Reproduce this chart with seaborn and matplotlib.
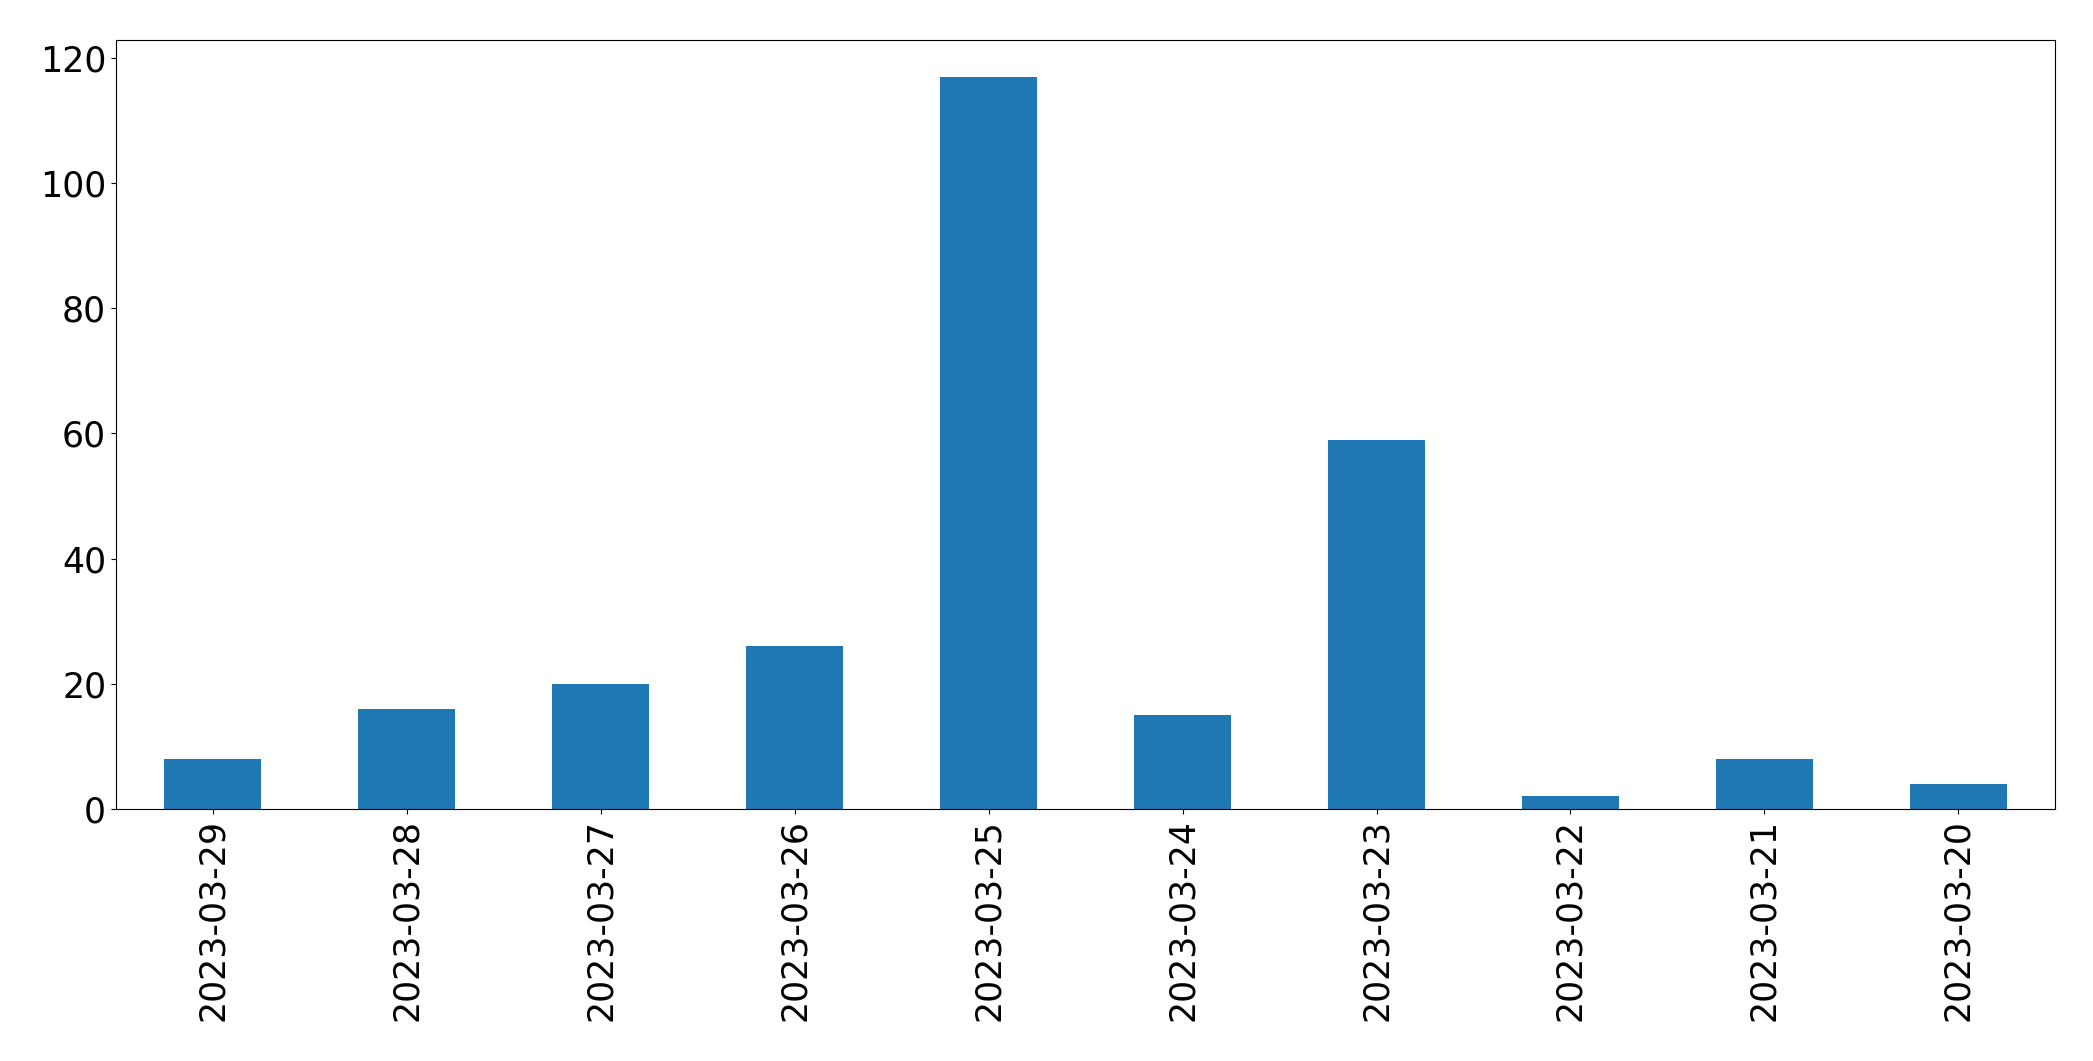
import matplotlib
matplotlib.use("Agg")
import matplotlib.pyplot as plt
import seaborn as sns
import pandas as pd

dates = ["2023-03-29", "2023-03-28", "2023-03-27", "2023-03-26", "2023-03-25",
         "2023-03-24", "2023-03-23", "2023-03-22", "2023-03-21", "2023-03-20"]
counts = [8, 16, 20, 26, 117, 15, 59, 2, 8, 4]

df = pd.DataFrame({"date": dates, "count": counts})

fig = plt.figure(figsize=(20.93, 10.61), dpi=100)
ax = fig.add_axes([0.0554, 0.2375, 0.9266, 0.7248])
sns.barplot(data=df, x="date", y="count", order=dates, color="#1f77b4",
            saturation=1, width=0.5, ax=ax)
ax.set_xlim(-0.5, len(dates) - 0.5)
ax.set_ylim(0, max(counts) * 1.05)
ax.set_yticks(range(0, 121, 20))
ax.set_xlabel("")
ax.set_ylabel("")
ax.tick_params(axis="x", labelrotation=90, labelsize=25)
ax.tick_params(axis="y", labelsize=25)
for s in ax.spines.values():
    s.set_visible(True)
    s.set_color("black")
fig.savefig("out.png", dpi=100)
